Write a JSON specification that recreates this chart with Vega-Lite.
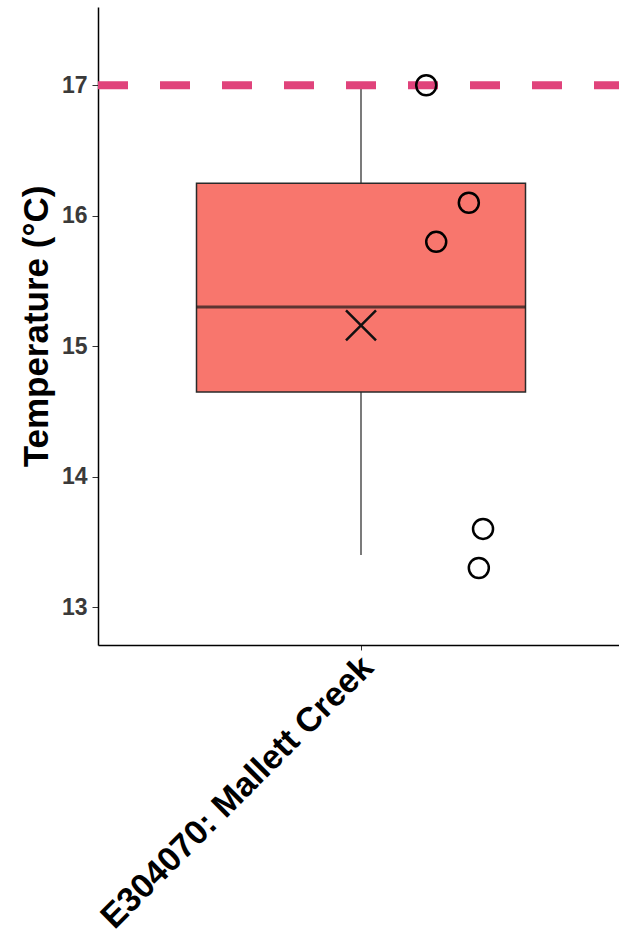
{
  "$schema": "https://vega.github.io/schema/vega-lite/v6.json",
  "autosize": "none",
  "padding": {"left": 98, "top": 7, "right": 0, "bottom": 292},
  "width": 526,
  "height": 638,
  "config": {
    "font": "Liberation Sans",
    "view": {"stroke": null},
    "axis": {"grid": false}
  },
  "datasets": {
    "box": [
      {"site": "E304070: Mallett Creek", "lower": 13.4, "q1": 14.65, "median": 15.3, "q3": 16.25, "upper": 17.0, "mean": 15.16}
    ],
    "obs": [
      {"site": "E304070: Mallett Creek", "temp": 17.0, "jitter": 0.124},
      {"site": "E304070: Mallett Creek", "temp": 16.1, "jitter": 0.205},
      {"site": "E304070: Mallett Creek", "temp": 15.8, "jitter": 0.143},
      {"site": "E304070: Mallett Creek", "temp": 13.6, "jitter": 0.232},
      {"site": "E304070: Mallett Creek", "temp": 13.3, "jitter": 0.224}
    ],
    "guide": [{"limit": 17}]
  },
  "layer": [
    {
      "data": {"name": "box"},
      "mark": {"type": "rule", "stroke": "#333333", "strokeWidth": 1.3},
      "encoding": {
        "x": {"field": "site", "type": "nominal", "scale": {"paddingInner": 0, "paddingOuter": 0},
          "axis": {"title": null, "labelAngle": -45, "labelAlign": "right", "labelBaseline": "top", "labelFontSize": 34, "labelFontWeight": "bold", "labelColor": "#000000", "labelPadding": 0, "labelOffset": -5, "labelLimit": 1000, "tickSize": 5, "tickColor": "#333333", "domainColor": "#000000", "domainWidth": 1.5}},
        "y": {"field": "lower", "type": "quantitative", "scale": {"domain": [12.71, 17.6], "nice": false, "zero": false},
          "axis": {"title": "Temperature (°C)", "values": [13, 14, 15, 16, 17], "format": "d", "titleFontSize": 35, "titleFontWeight": "bold", "titleColor": "#000000", "titlePadding": 7, "labelFontSize": 23, "labelFontWeight": "bold", "labelColor": "#3a3a3a", "labelPadding": 5, "tickSize": 6, "tickColor": "#333333", "domainColor": "#000000", "domainWidth": 1.5}},
        "y2": {"field": "upper"}
      }
    },
    {
      "data": {"name": "guide"},
      "mark": {"type": "rule", "stroke": "#e0437b", "strokeWidth": 8, "strokeDash": [30, 32]},
      "encoding": {"y": {"field": "limit", "type": "quantitative"}}
    },
    {
      "data": {"name": "box"},
      "mark": {"type": "bar", "fill": "#f8766d", "stroke": "#2a2a2a", "strokeWidth": 1.5, "width": 329},
      "encoding": {
        "x": {"field": "site", "type": "nominal"},
        "y": {"field": "q1", "type": "quantitative"},
        "y2": {"field": "q3"}
      }
    },
    {
      "data": {"name": "box"},
      "mark": {"type": "tick", "color": "#1a1a1a", "thickness": 3, "size": 329, "orient": "horizontal"},
      "encoding": {
        "x": {"field": "site", "type": "nominal"},
        "y": {"field": "median", "type": "quantitative"}
      }
    },
    {
      "data": {"name": "box"},
      "mark": {"type": "point", "shape": "M-1,-1L1,1M1,-1L-1,1", "size": 900, "filled": false, "stroke": "#111111", "strokeWidth": 2.5, "opacity": 1},
      "encoding": {
        "x": {"field": "site", "type": "nominal"},
        "y": {"field": "mean", "type": "quantitative"}
      }
    },
    {
      "data": {"name": "obs"},
      "mark": {"type": "point", "shape": "circle", "size": 400, "filled": false, "stroke": "#000000", "strokeWidth": 2.5, "opacity": 1},
      "encoding": {
        "x": {"field": "site", "type": "nominal"},
        "xOffset": {"field": "jitter", "type": "quantitative", "scale": {"domain": [-0.5, 0.5]}},
        "y": {"field": "temp", "type": "quantitative"}
      }
    }
  ]
}
